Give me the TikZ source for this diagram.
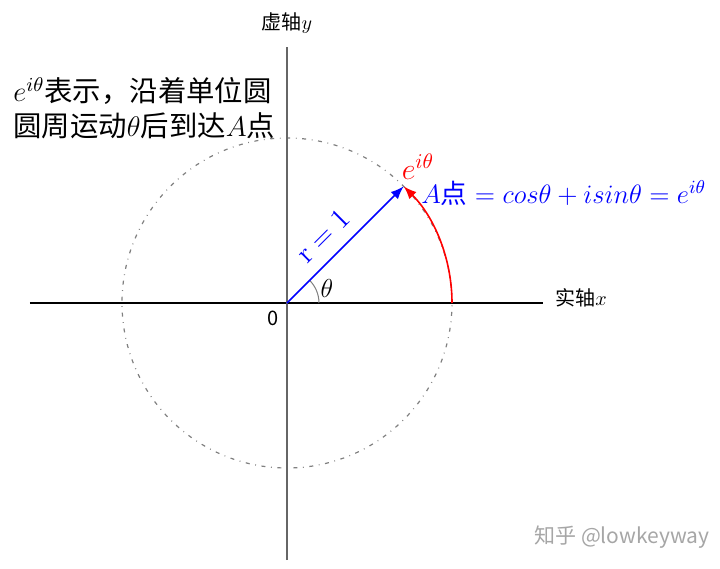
\RequirePackage{fix-cm}
\documentclass[tikz,border=0pt]{standalone}
\usepackage{fontspec}
\newfontfamily\cjk{Noto Sans CJK SC}
\usetikzlibrary{arrows.meta}

\begin{document}
\begin{tikzpicture}[x=0.5pt,y=0.5pt]
    \tikzstyle{every node}=[inner sep=0pt];
    \tikzstyle{unitcirc}=[gray,line width=0.6pt,dash pattern=on 2pt off 2.8pt on 0.4pt off 2.8pt];
    \tikzstyle{vec}=[-{Latex[length=6.5pt,width=5pt]},line width=0.8pt];
    \tikzstyle{cn}=[font=\cjk\fontsize{10}{12}\selectfont];
    \useasboundingbox (-287,-266) rectangle (433,303);

    \coordinate (O) at (0,0);
    \coordinate (A) at (45:165);
    \coordinate (B) at (165,0);
    \coordinate (xl) at (-257,0);
    \coordinate (xr) at (256,0);
    \coordinate (yt) at (0,256);
    \coordinate (yb) at (0,-257);

    \draw[unitcirc] (O) circle[radius=165];
    \draw[line width=0.7pt] (xl) -- (xr);
    \draw[line width=0.7pt,black!60] (yb) -- (yt);
    \draw[gray,line width=0.5pt] (32,0) arc[start angle=0,end angle=45,radius=32];

    \draw[vec,red] (B) arc[start angle=0,end angle=45,radius=165];
    \draw[vec,blue] (O) -- (A) node[pos=0.44,sloped,above=6pt,font=\fontsize{14.4}{16}\selectfont] (r) {$\mathrm{r}=1$};

    \node[cn] (ylab) at (0,280) {虚轴$y$};
    \node[cn,anchor=west] (xlab) at (268,5) {实轴$x$};
    \node[cn] (zero) at (-14,-15) {0};
    \node[font=\fontsize{13}{15}\selectfont] (th) at (40,15) {$\theta$};

    \node[red,font=\fontsize{15}{17}\selectfont] (eA) at (131,136) {$e^{i\theta}$};
    \node[blue,anchor=west,font=\fontsize{13.3}{15}\selectfont] (Aeq) at (134,110)
        {$A\mbox{\cjk 点}=cos\theta+isin\theta=e^{i\theta}$};

    \node[anchor=west,align=left,font=\cjk\fontsize{14.2}{17.5}\selectfont] (note) at (-274,195)
        {$e^{i\theta}$表示，沿着单位圆\\圆周运动$\theta$后到达$A$点};

    \node[cn,black!35,font=\cjk\fontsize{10.5}{12}\selectfont] (wm) at (335,-234) {知乎 @lowkeyway};
\end{tikzpicture}
\end{document}
